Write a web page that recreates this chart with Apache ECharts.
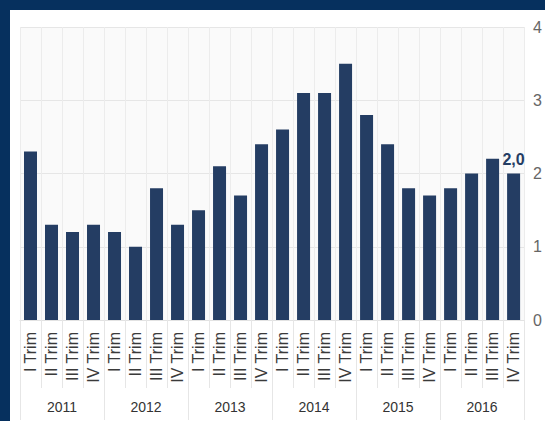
<!DOCTYPE html>
<html>
<head>
<meta charset="utf-8">
<script src="https://cdn.jsdelivr.net/npm/echarts@6/dist/echarts.min.js"></script>
<style>
html,body{margin:0;padding:0;background:#06305e;width:545px;height:421px;overflow:hidden;}
#c{position:absolute;left:10px;top:10px;width:535px;height:411px;background:#ffffff;}
</style>
</head>
<body>
<div id="c"></div>
<script>
const quarters = ["I Trim","II Trim","III Trim","IV Trim"];
const years = ["2011","2012","2013","2014","2015","2016"];
const categories = [];
years.forEach(function(){ quarters.forEach(function(q){ categories.push(q); }); });
const values = [2.3,1.3,1.2,1.3, 1.2,1.0,1.8,1.3, 1.5,2.1,1.7,2.4, 2.6,3.1,3.1,3.5, 2.8,2.4,1.8,1.7, 1.8,2.0,2.2,2.0];
const yTicks = [0,1,2,3,4];

const barColor = '#243d63';
const chart = echarts.init(document.getElementById('c'), null, {renderer:'svg'});
const last = values.length - 1;
chart.setOption({
  animation:false,
  grid:{left:10,right:15,top:17,bottom:101,show:true,backgroundColor:'#fafafa',borderWidth:0},
  xAxis:[{
    type:'category', data:categories, position:'bottom',
    axisLine:{show:true,lineStyle:{color:'#e2e2e2'}},
    axisTick:{show:true,interval:0,length:68,lineStyle:{color:'#e6e6e6'}},
    splitLine:{show:true,interval:0,lineStyle:{color:'#ececec'}},
    axisLabel:{interval:0,rotate:90,margin:12,fontSize:16,color:'#3a3a3a',fontFamily:'Liberation Sans, Arial, sans-serif'}
  },{
    type:'category', data:years, position:'bottom',
    axisLine:{show:false},
    axisTick:{show:true,interval:0,length:100,lineStyle:{color:'#e6e6e6'}},
    axisLabel:{interval:0,margin:80,fontSize:14,color:'#333333',fontFamily:'Liberation Sans Narrow, Arial Narrow, Liberation Sans, sans-serif'}
  }],
  yAxis:{
    type:'value', position:'right', min:0, max:4, interval:1,
    axisLine:{show:false}, axisTick:{show:false},
    splitLine:{show:true,lineStyle:{color:'#e6e6e6'}},
    axisLabel:{margin:9,fontSize:16,color:'#666666',fontFamily:'Liberation Sans, Arial, sans-serif',
      formatter:function(v){ return yTicks.indexOf(v)>=0 ? String(v) : ''; }}
  },
  series:[{
    type:'bar', xAxisIndex:0, barWidth:13,
    itemStyle:{color:barColor},
    data: values.map(function(v,i){
      return i===last ? {value:v,label:{show:true}} : v;
    }),
    label:{show:false,position:'top',distance:6,fontWeight:'bold',fontSize:16,color:barColor,
      fontFamily:'Liberation Sans Narrow, Arial Narrow, Liberation Sans, sans-serif',
      formatter:function(p){ return p.value.toFixed(1).replace('.',','); }}
  }]
});
</script>
</body>
</html>
